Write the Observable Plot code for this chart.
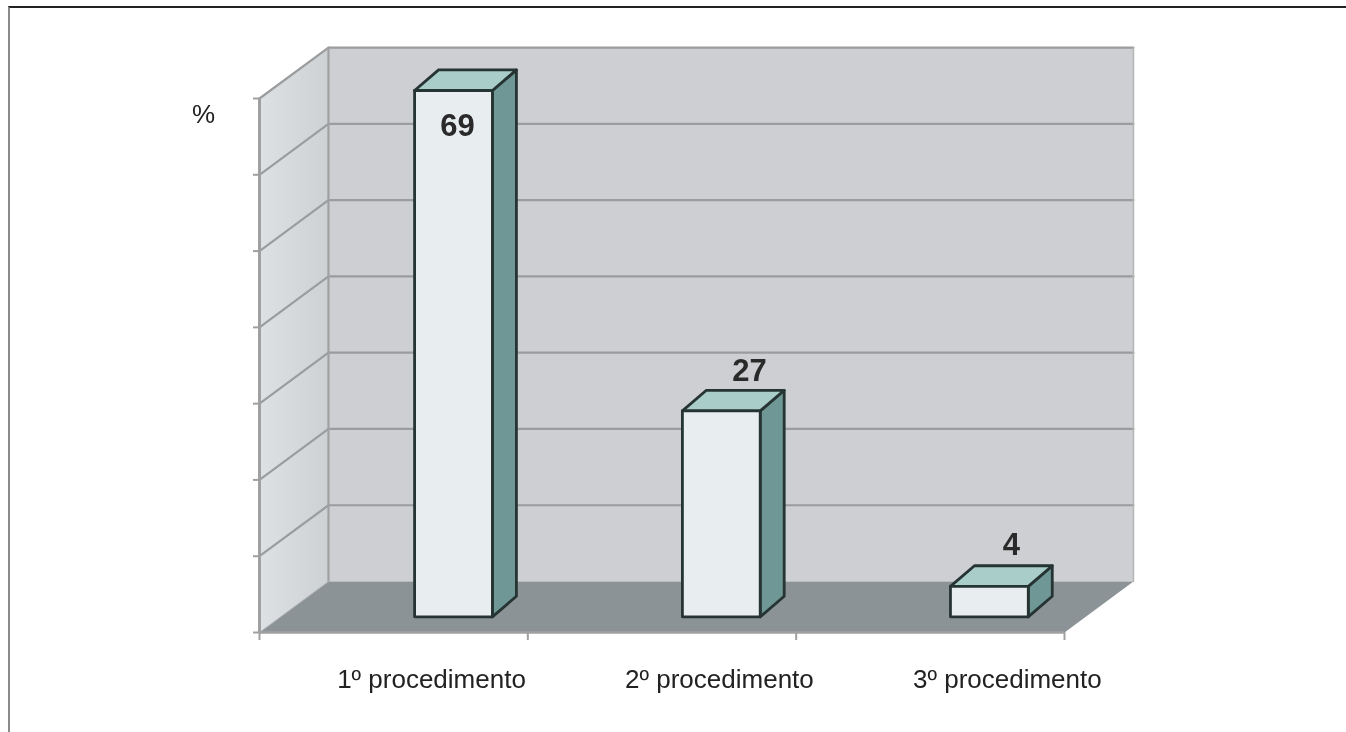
<!DOCTYPE html>
<html><head><meta charset="utf-8">
<script src="https://cdn.jsdelivr.net/npm/d3@7"></script>
<script src="https://cdn.jsdelivr.net/npm/@observablehq/plot@0.6"></script>
<style>
html,body{margin:0;padding:0;background:#fff;overflow:hidden}
#frame{position:absolute;left:8px;top:6px;right:0;bottom:0;border-top:2px solid #222;border-left:2px solid #8a8a8a;pointer-events:none}
#chart{position:absolute;left:0;top:0;filter:blur(0.45px)}
svg{display:block}
</style></head><body>
<div id="chart"></div><div id="frame"></div>
<script>
// Data
const categories = ["1º procedimento", "2º procedimento", "3º procedimento"];
const values = [69, 27, 4];
const yTicks = [0, 10, 20, 30, 40, 50, 60, 70];
const xTicks = [0, 1, 2, 3];
const yMax = 70;
const xMax = 3;

// Depth of the 3D box, in scale units
const wallDX = 0.257, wallDY = 6.68;      // floor depth
const barDX = 0.0894, barDY = 2.7;        // bar depth
const barBase = 2.05, barWidth = 0.29;    // front bottom of a bar, bar width
const barLeft = [0.578, 1.576, 2.575];
const labelPos = [0.641, 1.714, 2.787];
const valueLabelX = [0.738, 1.826, 2.802];
const valueLabelY = [66.4, 34.3, 11.5];

const poly = (id, fill, pts) => pts.concat([pts[0]]).map(([x, y]) => ({id, fill, x, y}));

const backWall = poly("back", "#cdcfd2", [[wallDX, wallDY], [xMax + wallDX, wallDY], [xMax + wallDX, yMax + wallDY], [wallDX, yMax + wallDY]]);
const leftWall = poly("left", "", [[0, 0], [wallDX, wallDY], [wallDX, yMax + wallDY], [0, yMax]]);
const floorPlane = poly("floor", "#8b9396", [[0, 0], [xMax, 0], [xMax + wallDX, wallDY], [wallDX, wallDY]]);

const gridLines = yTicks.flatMap(t => [
  {id: t, x: 0, y: t},
  {id: t, x: wallDX, y: t + wallDY},
  {id: t, x: xMax + wallDX, y: t + wallDY}
]);
const gridData = gridLines.filter(d => d.id > 0);

const bars = values.flatMap((v, i) => {
  const x0 = barLeft[i], x1 = x0 + barWidth, b = barBase, t = barBase + v;
  return [
    ...poly("s" + i, "#6f9796", [[x1, b], [x1 + barDX, b + barDY], [x1 + barDX, t + barDY], [x1, t]]),
    ...poly("t" + i, "#a9cdc8", [[x0, t], [x1, t], [x1 + barDX, t + barDY], [x0 + barDX, t + barDY]]),
    ...poly("f" + i, "#e8eef0", [[x0, b], [x1, b], [x1, t], [x0, t]])
  ];
});

const wallGradient = () => {
  const svg = d3.create("svg:defs");
  const g = svg.append("linearGradient").attr("id", "wallFade");
  g.append("stop").attr("offset", "0%").attr("stop-color", "#dee1e3");
  g.append("stop").attr("offset", "100%").attr("stop-color", "#ced1d4");
  return svg.node();
};

const edgeColor = "#a0a0a0";
const chart = Plot.plot({
  width: 1346, height: 732,
  marginLeft: 259, marginRight: 282, marginTop: 98, marginBottom: 100,
  x: {domain: [0, xMax], axis: null},
  y: {domain: [0, yMax], axis: null},
  style: {background: "transparent", fontFamily: "'Liberation Sans', Arial, sans-serif"},
  marks: [
    wallGradient,
    Plot.line(backWall, {x: "x", y: "y", z: "id", fill: "fill", stroke: null}),
    Plot.line(leftWall, {x: "x", y: "y", z: "id", fill: "url(#wallFade)", stroke: null}),
    Plot.line(floorPlane, {x: "x", y: "y", z: "id", fill: "fill", stroke: null}),
    Plot.line(gridData, {x: "x", y: "y", z: "id", stroke: "#9b9c9d", strokeWidth: 2.2}),
    // back wall left and right edges, floor front edge
    Plot.line([{x: wallDX, y: wallDY}, {x: wallDX, y: yMax + wallDY}], {x: "x", y: "y", stroke: edgeColor, strokeWidth: 2.2}),
    Plot.line([{x: xMax + wallDX, y: wallDY}, {x: xMax + wallDX, y: yMax + wallDY}], {x: "x", y: "y", stroke: "#b4b5b6", strokeWidth: 1.5}),
    Plot.line([{x: 0, y: 0}, {x: wallDX, y: wallDY}], {x: "x", y: "y", stroke: "#aeb2b4", strokeWidth: 1}),
    Plot.ruleX([0], {y1: 0, y2: yMax, stroke: edgeColor, strokeWidth: 3}),
    Plot.ruleY([0], {x1: 0, x2: xMax, stroke: edgeColor, strokeWidth: 2.5}),
    Plot.axisY({ticks: yTicks, tickFormat: () => "", label: null, tickSize: 6, stroke: edgeColor, strokeWidth: 2, marginLeft: 259}),
    Plot.axisX({ticks: xTicks, tickFormat: () => "", label: null, tickSize: 8, stroke: edgeColor, strokeWidth: 2, marginBottom: 100}),
    Plot.line(bars, {x: "x", y: "y", z: "id", fill: "fill", stroke: "#263433", strokeWidth: 2.8, strokeLinejoin: "round"}),
    Plot.text(categories, {x: (d, i) => labelPos[i], y: 0, dy: 47, text: d => d, fontSize: 26, fill: "#222", textAnchor: "middle"}),
    Plot.text(values, {x: (d, i) => valueLabelX[i], y: (d, i) => valueLabelY[i], text: d => String(d), fontSize: 31, fontWeight: "bold", fill: "#2a2a2a", textAnchor: "middle"}),
    Plot.text(["%"], {x: -0.208, y: 67.9, text: d => d, fontSize: 26, fill: "#222", textAnchor: "middle"})
  ]
});
document.getElementById("chart").append(chart);
</script>
</body></html>
